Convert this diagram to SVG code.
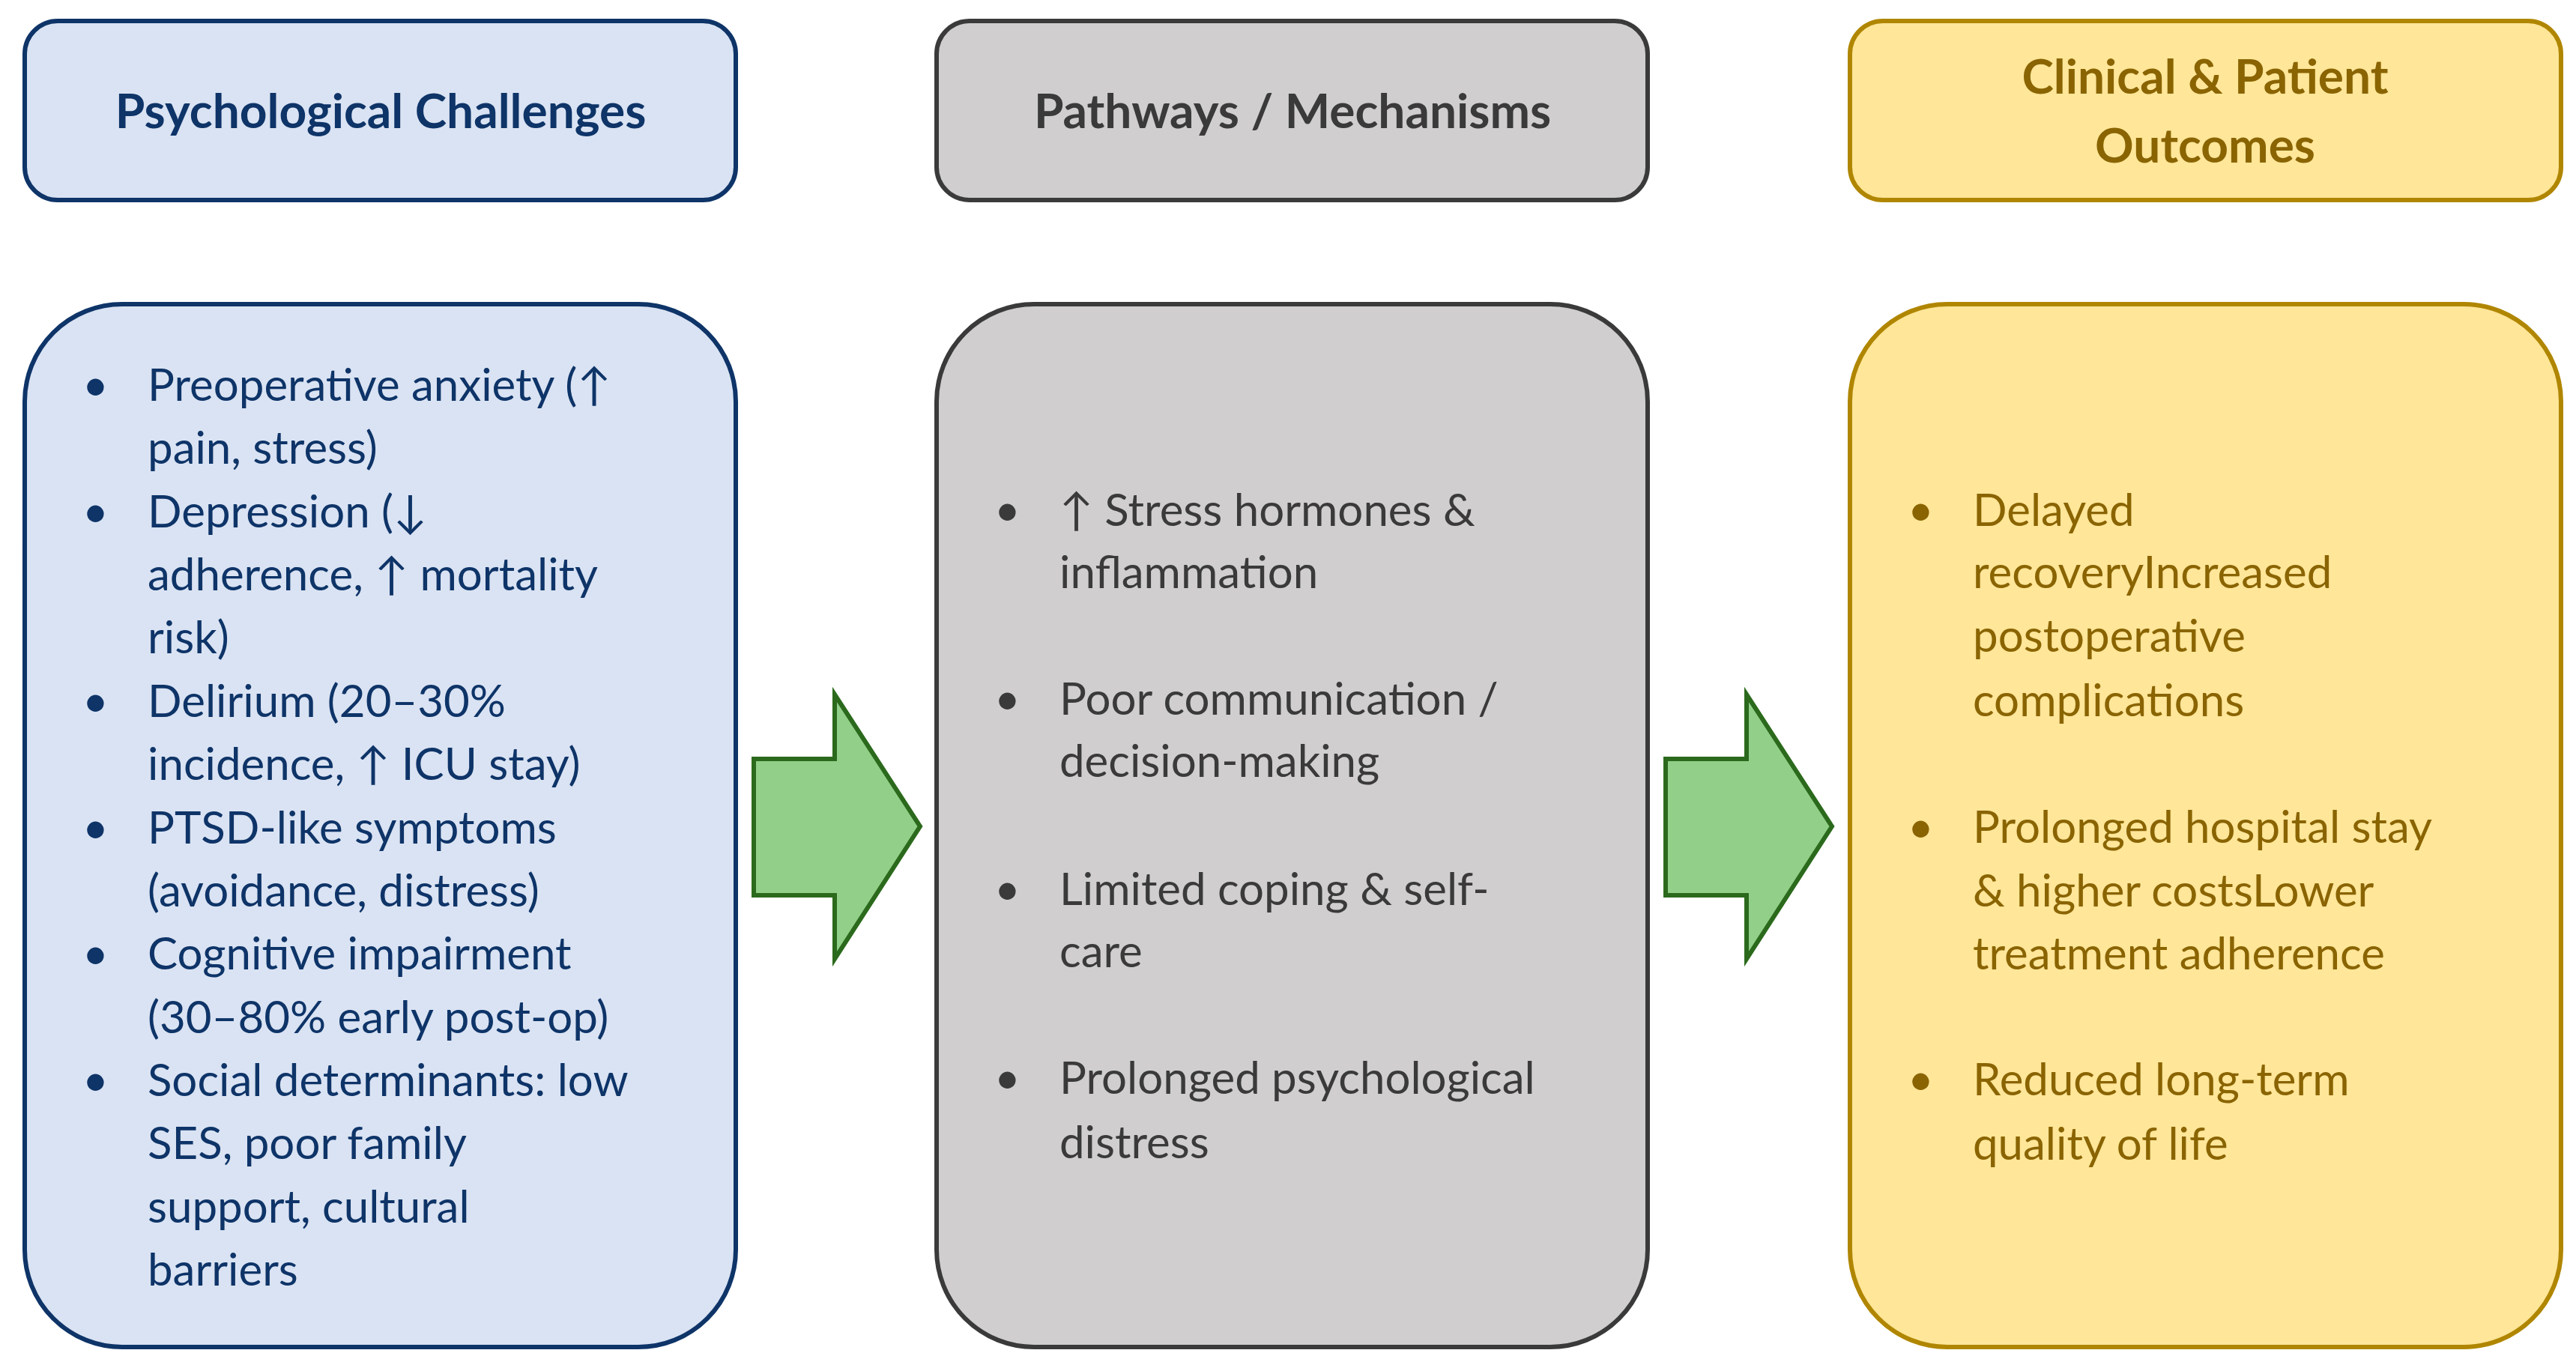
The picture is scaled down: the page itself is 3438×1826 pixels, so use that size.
<svg xmlns="http://www.w3.org/2000/svg" width="3438" height="1826" viewBox="0 0 3438 1826">
<style>
.b{stroke-width:6}
.blue{fill:#dae3f3;stroke:#0e3468}
.gray{fill:#d0cece;stroke:#3a3a3a}
.yel{fill:#ffe699;stroke:#b08600}
text{font-family:Lato,"Open Sans",sans-serif;font-size:60px}
.h{font-weight:bold;font-size:64px;text-anchor:middle}
.tb{fill:#0e3468}.tg{fill:#3a3a3a}.ty{fill:#8a6400}
.arr{fill:#92d08a;stroke:#2b6a1c;stroke-width:6}
</style>
<rect width="3438" height="1826" fill="#fff"/>
<g id="h1"><rect class="blue b" x="33" y="28" width="949" height="239" rx="44"/><text class="h tb" x="508" y="171">Psychological Challenges</text></g>
<g id="h2"><rect class="gray b" x="1250" y="28" width="949" height="239" rx="44"/><text class="h tg" x="1725" y="171">Pathways / Mechanisms</text></g>
<g id="h3"><rect class="yel b" x="2469" y="28" width="949" height="239" rx="44"/><text class="h ty" x="2943" y="125">Clinical &amp; Patient</text><text class="h ty" x="2943" y="217">Outcomes</text></g>
<g id="n1"><rect class="blue b" x="33" y="406" width="949" height="1392" rx="130"/>
<g class="tb">
<text x="110" y="535">•</text><text x="197" y="535">Preoperative anxiety (↑</text>
<text x="197" y="619">pain, stress)</text>
<text x="110" y="704">•</text><text x="197" y="704">Depression (↓</text>
<text x="197" y="788">adherence, ↑ mortality</text>
<text x="197" y="872">risk)</text>
<text x="110" y="957">•</text><text x="197" y="957">Delirium (20–30%</text>
<text x="197" y="1041">incidence, ↑ ICU stay)</text>
<text x="110" y="1126">•</text><text x="197" y="1126">PTSD-like symptoms</text>
<text x="197" y="1210">(avoidance, distress)</text>
<text x="110" y="1294">•</text><text x="197" y="1294">Cognitive impairment</text>
<text x="197" y="1379">(30–80% early post-op)</text>
<text x="110" y="1463">•</text><text x="197" y="1463">Social determinants: low</text>
<text x="197" y="1547">SES, poor family</text>
<text x="197" y="1632">support, cultural</text>
<text x="197" y="1716">barriers</text>
</g></g>
<g id="n2"><rect class="gray b" x="1250" y="406" width="949" height="1392" rx="130"/>
<g class="tg">
<text x="1327" y="702">•</text><text x="1414" y="702">↑ Stress hormones &amp;</text>
<text x="1414" y="785">inflammation</text>
<text x="1327" y="954">•</text><text x="1414" y="954">Poor communication /</text>
<text x="1414" y="1037">decision-making</text>
<text x="1327" y="1208">•</text><text x="1414" y="1208">Limited coping &amp; self-</text>
<text x="1414" y="1291">care</text>
<text x="1327" y="1460">•</text><text x="1414" y="1460">Prolonged psychological</text>
<text x="1414" y="1546">distress</text>
</g></g>
<g id="n3"><rect class="yel b" x="2469" y="406" width="949" height="1392" rx="130"/>
<g class="ty">
<text x="2546" y="702">•</text><text x="2633" y="702">Delayed</text>
<text x="2633" y="785">recoveryIncreased</text>
<text x="2633" y="870">postoperative</text>
<text x="2633" y="956">complications</text>
<text x="2546" y="1125">•</text><text x="2633" y="1125">Prolonged hospital stay</text>
<text x="2633" y="1210">&amp; higher costsLower</text>
<text x="2633" y="1294">treatment adherence</text>
<text x="2546" y="1462">•</text><text x="2633" y="1462">Reduced long-term</text>
<text x="2633" y="1548">quality of life</text>
</g></g>
<g id="connectors">
<polygon class="arr" points="1006,1013 1114,1013 1114,927 1228,1103 1114,1280 1114,1195 1006,1195"/>
<polygon class="arr" points="2223,1013 2331,1013 2331,927 2445,1103 2331,1280 2331,1195 2223,1195"/>
</g>
</svg>
